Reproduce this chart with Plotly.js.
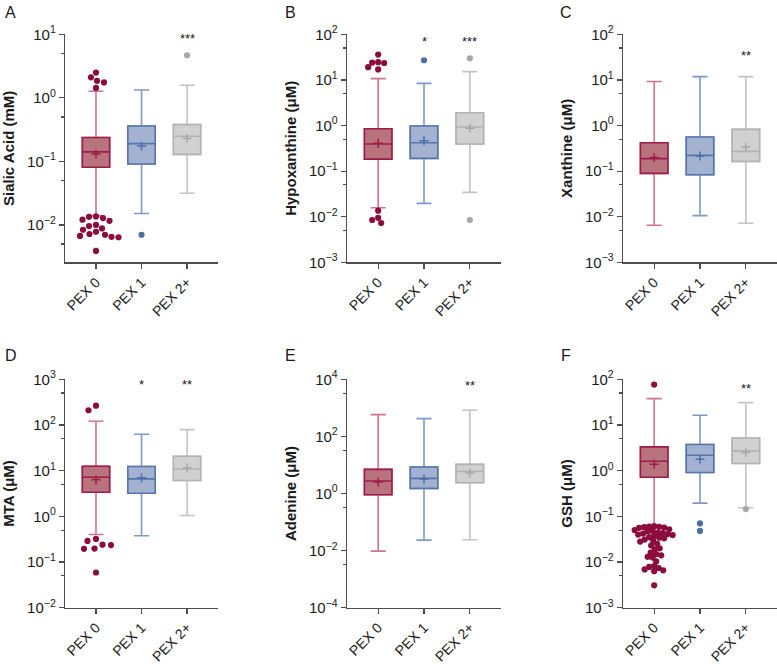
<!DOCTYPE html>
<html><head><meta charset="utf-8">
<script src="https://cdn.plot.ly/plotly-3.0.1.min.js"></script>
<style>html,body{margin:0;padding:0;background:#fff}#chart{width:777px;height:666px}</style>
</head><body><div id="chart"></div>
<script>
// ---------- shared ----------
const categories = ['PEX 0', 'PEX 1', 'PEX 2+'];
const panelLetters = ['A', 'B', 'C', 'D', 'E', 'F'];
const yTitles = ['Sialic Acid (mM)', 'Hypoxanthine (μM)', 'Xanthine (μM)', 'MTA (μM)', 'Adenine (μM)', 'GSH (μM)'];

// ---------- A: Sialic acid ----------
const sialicLower = [0.0139, 0.0151, 0.0315];
const sialicQ1 = [0.081, 0.091, 0.129];
const sialicMedian = [0.141, 0.19, 0.248];
const sialicQ3 = [0.237, 0.361, 0.379];
const sialicUpper = [1.27, 1.33, 1.58];
const sialicMean = [0.131, 0.175, 0.229];
const sialicOutliers0 = [2.5, 2.1, 1.85, 1.75, 1.43, 0.0136, 0.0134, 0.0128, 0.0121, 0.0116, 0.0100, 0.0096, 0.0088, 0.0084, 0.0078, 0.0072, 0.0070, 0.0067, 0.0065, 0.0064, 0.0039];
const sialicOutliers1 = [0.0070];
const sialicOutliers2 = [4.68];
const sialicStars = ['', '', '***'];

// ---------- B: Hypoxanthine ----------
const hypoLower = [0.0158, 0.0197, 0.0343];
const hypoQ1 = [0.184, 0.191, 0.394];
const hypoMedian = [0.394, 0.42, 0.93];
const hypoQ3 = [0.853, 0.977, 1.91];
const hypoUpper = [10.7, 8.4, 15.2];
const hypoMean = [0.407, 0.466, 0.87];
const hypoOutliers0 = [36, 24.5, 24, 23.5, 19, 17, 0.0136, 0.0095, 0.0085, 0.0073];
const hypoOutliers1 = [27];
const hypoOutliers2 = [29.8, 0.0085];
const hypoStars = ['', '*', '***'];

// ---------- C: Xanthine ----------
const xanLower = [0.0065, 0.0106, 0.0072];
const xanQ1 = [0.0895, 0.0837, 0.164];
const xanMedian = [0.188, 0.222, 0.272];
const xanQ3 = [0.42, 0.56, 0.826];
const xanUpper = [9.2, 11.8, 11.8];
const xanMean = [0.2, 0.215, 0.338];
const xanOutliers0 = [];
const xanOutliers1 = [];
const xanOutliers2 = [];
const xanStars = ['', '', '**'];

// ---------- D: MTA ----------
const mtaLower = [0.40, 0.375, 1.04];
const mtaQ1 = [3.38, 3.2, 6.1];
const mtaMedian = [7.2, 6.6, 10.9];
const mtaQ3 = [12.5, 12.3, 20.7];
const mtaUpper = [121, 62.7, 79];
const mtaMean = [6.3, 6.96, 11.5];
const mtaOutliers0 = [265, 210, 0.32, 0.29, 0.24, 0.235, 0.197, 0.195, 0.059];
const mtaOutliers1 = [];
const mtaOutliers2 = [];
const mtaStars = ['', '*', '**'];

// ---------- E: Adenine ----------
const adeLower = [0.0096, 0.0234, 0.024];
const adeQ1 = [0.91, 1.51, 2.39];
const adeMedian = [2.73, 3.39, 5.97];
const adeQ3 = [7.0, 8.5, 10.5];
const adeUpper = [578, 418, 820];
const adeMean = [2.52, 3.21, 5.2];
const adeOutliers0 = [];
const adeOutliers1 = [];
const adeOutliers2 = [];
const adeStars = ['', '', '**'];

// ---------- F: GSH ----------
const gshLower = [0.062, 0.195, 0.154];
const gshQ1 = [0.72, 0.91, 1.43];
const gshMedian = [1.61, 2.18, 2.71];
const gshQ3 = [3.31, 3.73, 5.2];
const gshUpper = [37.8, 16.3, 30.9];
const gshMean = [1.38, 1.78, 2.49];
const gshOutliers0 = [76.5,
  0.061, 0.060, 0.059, 0.058, 0.057, 0.056,
  0.052, 0.050, 0.048, 0.047,
  0.044, 0.043, 0.042, 0.041, 0.040, 0.039,
  0.037, 0.035, 0.034, 0.033,
  0.031, 0.029, 0.028,
  0.025, 0.023,
  0.020, 0.019,
  0.016, 0.015, 0.014,
  0.013, 0.0125,
  0.0103,
  0.0082, 0.0078, 0.0074,
  0.0069, 0.0066, 0.0063,
  0.0031];
const gshOutliers1 = [0.070, 0.048];
const gshOutliers2 = [0.144];
const gshStars = ['', '', '**'];

// ---------- axis tick settings ----------
const majorExpA = [-2, -1, 0, 1];
const majorExpB = [-3, -2, -1, 0, 1, 2];
const majorExpC = [-3, -2, -1, 0, 1, 2];
const majorExpD = [-2, -1, 0, 1, 2, 3];
const majorExpE = [-4, -2, 0, 2, 4];
const majorExpF = [-3, -2, -1, 0, 1, 2];
const minorA = [0.005, 0.05, 0.5, 5];
const minorB = [0.005, 0.05, 0.5, 5, 50];
const minorC = [0.005, 0.05, 0.5, 5, 50];
const minorD = [0.05, 0.5, 5, 50, 500];
const minorE = [Math.pow(10, -2.5), Math.pow(10, -0.5), Math.pow(10, 1.5), Math.pow(10, 3.5)];
const minorF = [0.005, 0.05, 0.5, 5, 50];
const yRangeA = [-2.59, 1];
const yRangeB = [-3, 2];
const yRangeC = [-3, 2];
const yRangeD = [-2, 3];
const yRangeE = [-4, 4];
const yRangeF = [-3, 2];
const starLevelA = 0.93, starLevelB = 1.84, starLevelC = 1.53, starLevelD = 2.89, starLevelE = 3.77, starLevelF = 1.80;
// dot spacing (px) used by the beeswarm layout in each panel
const swarmGapA = 6.8, swarmGapB = 6, swarmGapC = 6, swarmGapD = 8.5, swarmGapE = 6, swarmGapF = 4.9;

// ---------- styles ----------
const FONT = 'Liberation Sans, Arial, Helvetica, sans-serif';
const boxFill = ['#b9737f', '#a4b2d2', '#d1d1d1'];
const boxLine = ['#9c1c48', '#5676aa', '#b3b3b3'];
const whiskerLine = ['#cc7491', '#7f99c6', '#c4c4c4'];
const dotColor = ['#8a0d3d', '#4a6ea6', '#a8a8a8'];
const meanColor = ['#9c1c48', '#4d6ea6', '#a6a6a6'];

const panels = [
  {lower: sialicLower, q1: sialicQ1, med: sialicMedian, q3: sialicQ3, upper: sialicUpper, mean: sialicMean, out: [sialicOutliers0, sialicOutliers1, sialicOutliers2], stars: sialicStars, starLevel: starLevelA, exps: majorExpA, minor: minorA, range: yRangeA, gap: swarmGapA},
  {lower: hypoLower, q1: hypoQ1, med: hypoMedian, q3: hypoQ3, upper: hypoUpper, mean: hypoMean, out: [hypoOutliers0, hypoOutliers1, hypoOutliers2], stars: hypoStars, starLevel: starLevelB, exps: majorExpB, minor: minorB, range: yRangeB, gap: swarmGapB},
  {lower: xanLower, q1: xanQ1, med: xanMedian, q3: xanQ3, upper: xanUpper, mean: xanMean, out: [xanOutliers0, xanOutliers1, xanOutliers2], stars: xanStars, starLevel: starLevelC, exps: majorExpC, minor: minorC, range: yRangeC, gap: swarmGapC},
  {lower: mtaLower, q1: mtaQ1, med: mtaMedian, q3: mtaQ3, upper: mtaUpper, mean: mtaMean, out: [mtaOutliers0, mtaOutliers1, mtaOutliers2], stars: mtaStars, starLevel: starLevelD, exps: majorExpD, minor: minorD, range: yRangeD, gap: swarmGapD},
  {lower: adeLower, q1: adeQ1, med: adeMedian, q3: adeQ3, upper: adeUpper, mean: adeMean, out: [adeOutliers0, adeOutliers1, adeOutliers2], stars: adeStars, starLevel: starLevelE, exps: majorExpE, minor: minorE, range: yRangeE, gap: swarmGapE},
  {lower: gshLower, q1: gshQ1, med: gshMedian, q3: gshQ3, upper: gshUpper, mean: gshMean, out: [gshOutliers0, gshOutliers1, gshOutliers2], stars: gshStars, starLevel: starLevelF, exps: majorExpF, minor: minorF, range: yRangeF, gap: swarmGapF}
];

const W = 777, H = 666;
const xDomains = [[0.0837, 0.2806], [0.4466, 0.6448], [0.8018, 1.0]];
const yDomains = [[0.606, 0.9485], [0.0875, 0.4305]];
const xRange = [-0.68, 2.68];
const letterPos = [[3, 12], [283, 12], [558, 12], [3, 355], [283, 355], [559, 355]];

// simple beeswarm: horizontal offsets (in x units) so dots only partly overlap
function swarm(values, pxPerDecade, pxPerUnit, diam) {
  const placed = [];
  const offs = [];
  values.forEach(v => {
    const y = Math.log10(v) * pxPerDecade;
    let chosen = 0;
    for (let k = 0; k < 400; k++) {
      const c = (k % 2 === 0 ? 1 : -1) * Math.ceil(k / 2) * 0.5;
      let ok = true;
      for (const p of placed) {
        const dx = p[0] - c, dy = p[1] - y;
        if (dx * dx + dy * dy < diam * diam) { ok = false; break; }
      }
      if (ok) { chosen = c; break; }
    }
    placed.push([chosen, y]);
    offs.push(chosen / pxPerUnit);
  });
  return offs;
}

const supNum = e => (e < 0 ? '\u2212' + (-e) : '' + e);

const traces = [];
const layout = {
  width: W, height: H, margin: {l: 0, r: 0, t: 0, b: 0},
  paper_bgcolor: '#fff', plot_bgcolor: 'rgba(0,0,0,0)',
  showlegend: false, boxmode: 'overlay',
  font: {family: FONT, color: '#1a1a1a', size: 15},
  annotations: []
};

panels.forEach((p, k) => {
  const col = k % 3, row = Math.floor(k / 3);
  const ax = k === 0 ? '' : String(k + 1);
  const xa = 'x' + ax, ya = 'y' + ax;
  const xd = xDomains[col], yd = yDomains[row];
  const pxPerUnit = (xd[1] - xd[0]) * W / (xRange[1] - xRange[0]);
  const pxPerDecade = (yd[1] - yd[0]) * H / (p.range[1] - p.range[0]);

  for (let i = 0; i < 3; i++) {
    traces.push({
      type: 'box', xaxis: xa, yaxis: ya, x: [i],
      q1: [p.q1[i]], median: [p.med[i]], q3: [p.q3[i]],
      lowerfence: [p.lower[i]], upperfence: [p.upper[i]],
      width: 0.6, whiskerwidth: 0.55, boxpoints: false,
      line: {color: whiskerLine[i], width: 1.6},
      fillcolor: 'rgba(0,0,0,0)', hoverinfo: 'skip'
    });
    traces.push({
      type: 'box', xaxis: xa, yaxis: ya, x: [i],
      q1: [p.q1[i]], median: [p.med[i]], q3: [p.q3[i]],
      lowerfence: [p.q1[i]], upperfence: [p.q3[i]],
      width: 0.6, whiskerwidth: 0, boxpoints: false,
      line: {color: boxLine[i], width: 1.6},
      fillcolor: boxFill[i], name: categories[i]
    });
    traces.push({
      type: 'scatter', mode: 'markers', xaxis: xa, yaxis: ya,
      x: [i], y: [p.mean[i]],
      marker: {symbol: 'cross-thin', size: 6.5, line: {color: meanColor[i], width: 1.5}},
      hoverinfo: 'y'
    });
    const vals = p.out[i];
    if (vals.length) {
      const offs = swarm(vals, pxPerDecade, pxPerUnit, p.gap);
      traces.push({
        type: 'scatter', mode: 'markers', xaxis: xa, yaxis: ya,
        x: offs.map(o => i + o), y: vals,
        marker: {size: 6.2, color: dotColor[i]}, cliponaxis: false
      });
    }
    if (p.stars[i]) {
      layout.annotations.push({
        xref: xa, yref: ya, x: i, y: p.starLevel, text: p.stars[i],
        showarrow: false, font: {size: 13, color: '#1a1a1a'}, yanchor: 'middle'
      });
    }
  }

  layout['xaxis' + ax] = {
    domain: xd, anchor: ya, range: xRange, type: 'linear',
    tickmode: 'array', tickvals: [0, 1, 2], ticktext: categories,
    tickangle: -45, ticks: 'outside', ticklen: 5, tickwidth: 1.3, tickcolor: '#4d4d4d',
    showline: true, linecolor: '#4d4d4d', linewidth: 1.3,
    showgrid: false, zeroline: false, tickfont: {size: 14, color: '#1a1a1a'}
  };
  layout['yaxis' + ax] = {
    domain: yd, anchor: xa, type: 'log', range: p.range,
    tickmode: 'array', tickvals: p.exps.map(e => Math.pow(10, e)),
    ticktext: p.exps.map(e => '10<sup>' + supNum(e) + '</sup>'),
    ticks: 'outside', ticklen: 5, tickwidth: 1.3, tickcolor: '#4d4d4d',
    minor: {tickmode: 'array', tickvals: p.minor, ticks: 'outside', ticklen: 3, tickwidth: 1.2, tickcolor: '#4d4d4d', showgrid: false},
    showline: true, linecolor: '#4d4d4d', linewidth: 1.3,
    showgrid: false, zeroline: false, tickfont: {size: 15, color: '#1a1a1a'},
    title: {text: '<b>' + yTitles[k] + '</b>', font: {size: 15, color: '#1a1a1a'}, standoff: 8}
  };

  layout.annotations.push({
    xref: 'paper', yref: 'paper', x: letterPos[k][0] / W, y: 1 - letterPos[k][1] / H,
    xanchor: 'left', yanchor: 'middle', text: panelLetters[k], showarrow: false,
    font: {size: 16, color: '#1a1a1a'}
  });
});

Plotly.newPlot('chart', traces, layout, {displayModeBar: false, staticPlot: true});
</script>
</body></html>
